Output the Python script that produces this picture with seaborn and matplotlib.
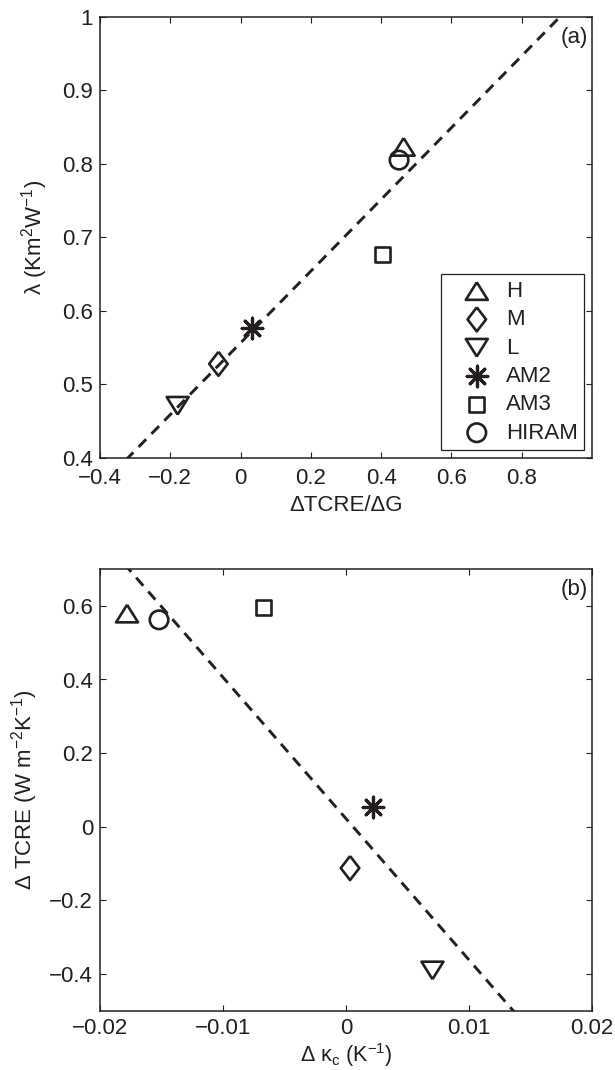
import numpy as np
import matplotlib
matplotlib.use("Agg")
import matplotlib.pyplot as plt
from matplotlib.ticker import FixedLocator, FuncFormatter
import seaborn as sns

# ---- data -------------------------------------------------------------
models = ["H", "M", "L", "AM2", "AM3", "HIRAM"]

# panel (a): ΔTCRE/ΔG vs λ
tcre_over_g = [0.464, -0.063, -0.179, 0.033, 0.405, 0.451]
lam = [0.823, 0.528, 0.471, 0.577, 0.677, 0.805]

# panel (b): Δκc vs ΔTCRE
d_kappa = [-0.0178, 0.00033, 0.00703, 0.00222, -0.00672, -0.0152]
d_tcre = [0.579, -0.112, -0.390, 0.055, 0.596, 0.562]

a_xticks = [-0.4, -0.2, 0, 0.2, 0.4, 0.6, 0.8]
a_yticks = [0.4, 0.5, 0.6, 0.7, 0.8, 0.9, 1.0]
b_xticks = [-0.02, -0.01, 0, 0.01, 0.02]
b_yticks = [-0.4, -0.2, 0, 0.2, 0.4, 0.6]

# ---- style ------------------------------------------------------------
sns.set_theme(style="white")
INK = "#231f20"
FS = 16
plt.rcParams["font.family"] = ["Liberation Sans", "DejaVu Sans"]
plt.rcParams["mathtext.default"] = "regular"
plt.rcParams["text.color"] = INK
plt.rcParams["axes.labelcolor"] = INK

# marker shapes and sizes per model
tri_up = [(0, 0.8), (-1, -0.8), (1, -0.8), (0, 0.8)]
tri_dn = [(0, -0.8), (-1, 0.8), (1, 0.8), (0, -0.8)]
diamond = [(0, 1), (0.77, 0), (0, -1), (-0.77, 0), (0, 1)]
asterisk = (8, 2, 0)
marker_of = {"H": tri_up, "M": diamond, "L": tri_dn,
             "AM2": asterisk, "AM3": "s", "HIRAM": "o"}
size_of = {"H": 250, "M": 300, "L": 250, "AM2": 220, "AM3": 118, "HIRAM": 178}


def fmt(v, _pos):
    return f"{v:g}".replace("-", "\u2212")


def style_axes(ax, xlim, ylim, xticks, yticks, xpad):
    ax.set_xlim(*xlim)
    ax.set_ylim(*ylim)
    ax.xaxis.set_major_locator(FixedLocator(xticks))
    ax.yaxis.set_major_locator(FixedLocator(yticks))
    ax.xaxis.set_major_formatter(FuncFormatter(fmt))
    ax.yaxis.set_major_formatter(FuncFormatter(fmt))
    ax.tick_params(direction="in", length=4, width=0.8, color=INK,
                   labelsize=FS, labelcolor=INK, top=True, right=True,
                   bottom=True, left=True)
    ax.tick_params(axis="x", pad=xpad)
    ax.tick_params(axis="y", pad=5)
    for sp in ax.spines.values():
        sp.set_visible(True)
        sp.set_color(INK)
        sp.set_linewidth(1.1)
    ax.grid(False)


def draw_points(ax, xs, ys, with_labels):
    for name, xv, yv in zip(models, xs, ys):
        m = marker_of[name]
        kw = dict(x=[xv], y=[yv], marker=m, s=size_of[name],
                  ax=ax, zorder=3, legend=False)
        if with_labels:
            kw["label"] = name
        if name == "AM2":
            sns.scatterplot(color=INK, linewidth=2.3, **kw)
        else:
            sns.scatterplot(color=INK, facecolor="none", edgecolor=INK,
                            linewidth=1.9, **kw)


def draw_fit(ax, xs, ys):
    sns.regplot(x=np.asarray(xs), y=np.asarray(ys), scatter=False, ci=None,
                truncate=False, ax=ax,
                line_kws=dict(color=INK, linewidth=2.1, dashes=(3.7, 2.6),
                              zorder=2))


fig = plt.figure(figsize=(6.15, 10.7), dpi=100)
ax1 = fig.add_axes([100 / 615, (1070 - 458) / 1070, 492 / 615, 441.3 / 1070])
ax2 = fig.add_axes([100 / 615, (1070 - 1011) / 1070, 492 / 615, 442 / 1070])

# ---- panel (a) ----------------------------------------------------------
ax1.set_xlim(-0.4, 1.0)
ax1.set_ylim(0.4, 1.0)
draw_fit(ax1, tcre_over_g, lam)
draw_points(ax1, tcre_over_g, lam, True)
style_axes(ax1, (-0.4, 1.0), (0.4, 1.0), a_xticks, a_yticks, 7.5)
ax1.set_xlabel("\u0394TCRE/\u0394G", fontsize=FS)
ax1.set_ylabel("\u03bb (Km$^2$W$^{-1}$)", fontsize=FS)
ax1.xaxis.set_label_coords(0.5, -0.084)
ax1.yaxis.set_label_coords(-0.102, 0.5)
ax1.text(0.992, 0.977, "(a)", transform=ax1.transAxes, ha="right", va="top",
         fontsize=FS, color=INK)
leg = ax1.legend(loc="lower right", fontsize=FS, frameon=True, fancybox=False,
                 borderpad=0.3, labelspacing=0.33, handlelength=2.6,
                 handletextpad=0.0, borderaxespad=0.35, scatterpoints=1)
leg.get_frame().set_edgecolor(INK)
leg.get_frame().set_linewidth(0.9)
leg.get_frame().set_facecolor("white")
leg.get_frame().set_alpha(1)

# ---- panel (b) ----------------------------------------------------------
ax2.set_xlim(-0.02, 0.02)
ax2.set_ylim(-0.5, 0.7)
draw_fit(ax2, d_kappa, d_tcre)
draw_points(ax2, d_kappa, d_tcre, False)
style_axes(ax2, (-0.02, 0.02), (-0.5, 0.7), b_xticks, b_yticks, 5)
ax2.set_xlabel("\u0394 \u03ba$_c$ (K$^{-1}$)", fontsize=15.5)
ax2.set_ylabel("\u0394 TCRE (W m$^{-2}$K$^{-1}$)", fontsize=FS)
ax2.xaxis.set_label_coords(0.5, -0.069)
ax2.yaxis.set_label_coords(-0.122, 0.5)
ax2.text(0.992, 0.977, "(b)", transform=ax2.transAxes, ha="right", va="top",
         fontsize=FS, color=INK)

fig.savefig("out.png", dpi=100, facecolor="white")
